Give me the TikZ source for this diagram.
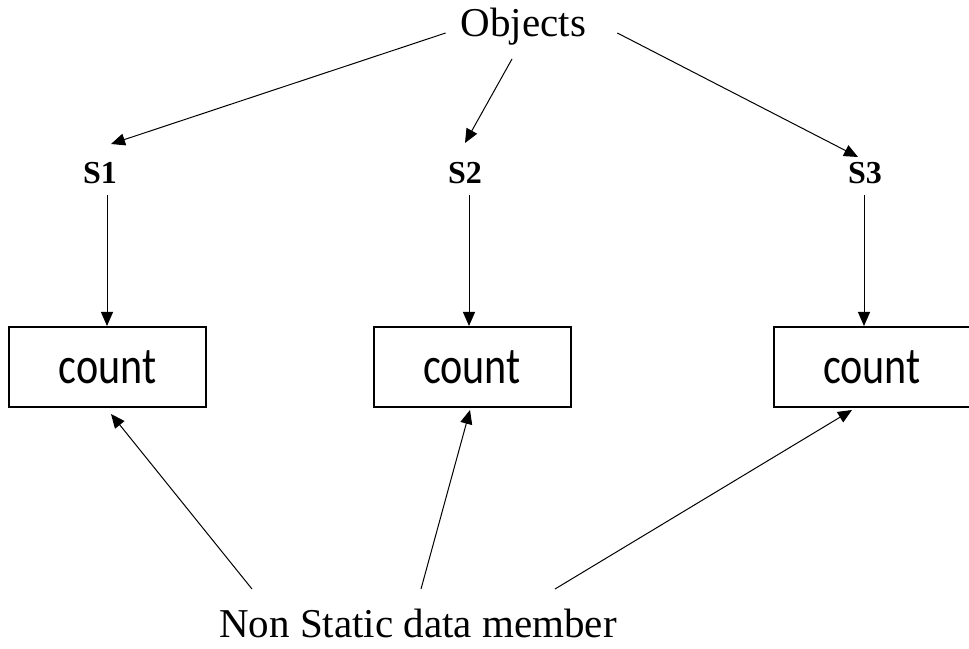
\documentclass[tikz,border=0pt]{standalone}
\usepackage{fontspec}
\setmainfont{Liberation Serif}
\newfontfamily\cntfont[FakeStretch=0.81]{Carlito}
\usetikzlibrary{arrows.meta,calc}
\begin{document}
\begin{tikzpicture}[x=1pt,y=1pt,
  arr/.style={line width=1pt,-{Triangle[length=14pt,width=12pt]}},
  cbox/.style={draw,line width=2pt,minimum width=197pt,minimum height=80pt,inner sep=0pt,font=\cntfont\fontsize{52}{52}\selectfont},
  slab/.style={font=\bfseries\fontsize{32}{32}\selectfont,inner sep=0pt,anchor=base},
  big/.style={font=\fontsize{41}{41}\selectfont,inner sep=0pt,anchor=base}]
\clip (0,0) rectangle (969,648);
\node[big] (obj) at (523.5,611) {Objects};
\node[slab] (s1) at (100,464) {S1};
\node[slab] (s2) at (465,464) {S2};
\node[slab] (s3) at (865,464) {S3};
\node[cbox] (c1) at (107.5,281) {count};
\node[cbox] (c2) at (472,281) {count};
\node[cbox] (c3) at (872,281) {count};
\node[big] (nsd) at (418,11) {Non Static data member};
% Objects -> S
\draw[arr] ([shift={(-15,4)}]obj.base west) -- ([shift={(11,40)}]s1.base);
\draw[arr] ([shift={(-11.5,-22)}]obj.base) -- ([shift={(0,41)}]s2.base);
\draw[arr] ([shift={(31,4)}]obj.base east) -- ([shift={(-7,27)}]s3.base);
% S -> count
\draw[arr] ($(c1.north |- s1.base)+(-0.5,-11)$) -- ($(c1.north)+(-0.5,0)$);
\draw[arr] ($(c2.north |- s2.base)+(-3,-11)$) -- ($(c2.north)+(-3,0)$);
\draw[arr] ($(c3.north |- s3.base)+(-8,-11)$) -- ($(c3.north)+(-8,0)$);
% Non static -> count
\draw[arr] ([shift={(-166,48)}]nsd.base) -- ([shift={(3.5,-6)}]c1.south);
\draw[arr] ([shift={(3,48)}]nsd.base) -- ([shift={(-2,-2)}]c2.south);
\draw[arr] ([shift={(137,48)}]nsd.base) -- ([shift={(-20,-2)}]c3.south);
\end{tikzpicture}
\end{document}
